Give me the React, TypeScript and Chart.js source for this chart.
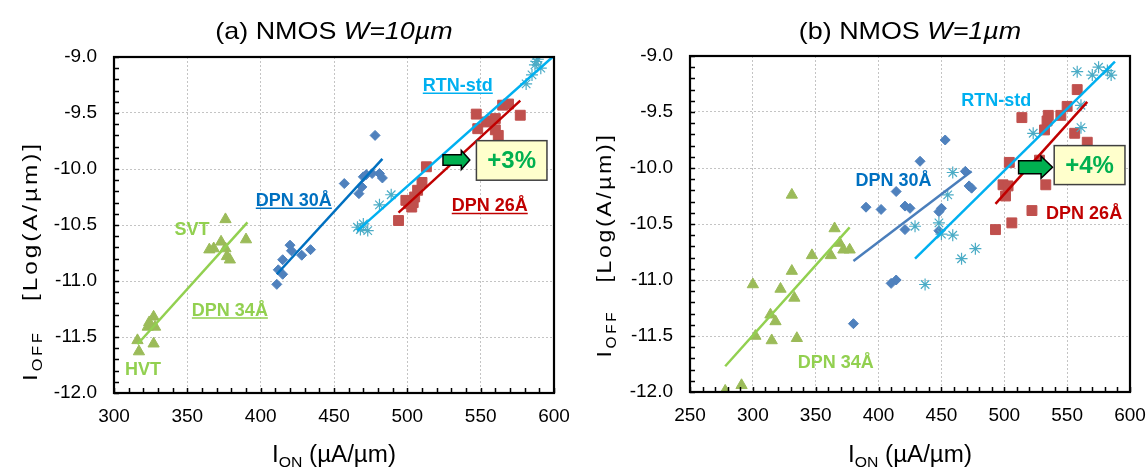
import React, { useEffect, useRef } from 'react';
import { Chart, registerables } from 'chart.js';

Chart.register(...registerables);

const FONT = '"Liberation Sans", Arial, Helvetica, sans-serif';

// ---------------- Panel (a): NMOS W=10um ----------------
const a_dpn34_ion = [376, 390, 365, 368, 373, 376, 377, 379, 324, 327, 328, 323, 316, 317, 327];
const a_dpn34_ioff = [-10.45, -10.63, -10.72, -10.71, -10.65, -10.71, -10.78, -10.81, -11.37, -11.32, -11.41, -11.41, -11.53, -11.63, -11.56];
const a_dpn30_ion = [411, 415, 412, 415, 420, 421, 428, 434, 478, 457, 470, 472, 476, 481, 483, 469, 467];
const a_dpn30_ioff = [-11.03, -10.94, -10.9, -10.81, -10.68, -10.73, -10.77, -10.72, -9.7, -10.13, -10.07, -10.05, -10.04, -10.04, -10.08, -10.16, -10.22];
const a_rtn_ion = [466, 470, 473, 468, 481, 489, 581, 585, 587, 588, 591, 589];
const a_rtn_ioff = [-10.52, -10.49, -10.55, -10.54, -10.32, -10.23, -9.24, -9.16, -9.07, -9.04, -9.1, -9.02];
const a_dpn26_ion = [494, 499, 503, 505, 507, 510, 513, 501, 504, 547, 548, 554, 557, 560, 565, 569, 577, 560, 562];
const a_dpn26_ioff = [-10.46, -10.28, -10.34, -10.25, -10.19, -10.12, -9.98, -10.31, -10.3, -9.51, -9.64, -9.58, -9.57, -9.55, -9.43, -9.42, -9.52, -9.65, -9.7];
// fitted trend lines (end points)
const a_fit34_ion = [316, 391];
const a_fit34_ioff = [-11.565, -10.476];
const a_fit30_ion = [411, 483];
const a_fit30_ioff = [-10.94, -9.91];
const a_fitRtn_ion = [466, 599];
const a_fitRtn_ioff = [-10.55, -9.0];
const a_fit26_ion = [494, 577];
const a_fit26_ioff = [-10.39, -9.39];
const a_xTicks = [300, 350, 400, 450, 500, 550, 600];

// ---------------- Panel (b): NMOS W=1um ----------------
const b_dpn34_ion = [331, 365, 369, 372, 377, 347, 362, 331, 300, 322, 333, 314, 318, 302, 315, 335, 291, 278];
const b_dpn34_ioff = [-10.24, -10.54, -10.67, -10.73, -10.73, -10.78, -10.78, -10.92, -11.04, -11.08, -11.16, -11.31, -11.37, -11.5, -11.54, -11.52, -11.94, -11.99];
const b_dpn30_ion = [390, 402, 414, 421, 425, 421, 433, 453, 448, 450, 448, 469, 472, 474, 380, 410, 414];
const b_dpn30_ioff = [-10.35, -10.37, -10.21, -10.34, -10.36, -10.55, -9.94, -9.75, -10.39, -10.36, -10.56, -10.03, -10.16, -10.18, -11.39, -11.03, -11.0];
const b_rtn_ion = [558, 570, 575, 582, 585, 561, 561, 523, 459, 455, 429, 448, 450, 459, 466, 477, 437];
const b_rtn_ioff = [-9.14, -9.17, -9.1, -9.13, -9.17, -9.44, -9.64, -9.69, -10.04, -10.24, -10.52, -10.49, -10.59, -10.6, -10.81, -10.72, -11.04];
const b_dpn26_ion = [558, 550, 545, 535, 534, 532, 514, 556, 566, 504, 528, 499, 503, 501, 533, 522, 506, 493];
const b_dpn26_ioff = [-9.3, -9.45, -9.53, -9.53, -9.58, -9.66, -9.55, -9.69, -9.77, -9.95, -9.93, -10.15, -10.16, -10.25, -10.15, -10.38, -10.49, -10.55];
const b_fit34_ion = [278, 377];
const b_fit34_ioff = [-11.77, -10.53];
const b_fit30_ion = [380, 474];
const b_fit30_ioff = [-10.83, -10.03];
const b_fitRtn_ion = [429, 588];
const b_fitRtn_ioff = [-10.81, -9.05];
const b_fit26_ion = [493, 566];
const b_fit26_ioff = [-10.32, -9.41];
const b_xTicks = [250, 300, 350, 400, 450, 500, 550, 600];

const yTicks = [-12.0, -11.5, -11.0, -10.5, -10.0, -9.5, -9.0];

// ---------------- styles ----------------
const C_TRI = '#9bbb59';
const C_TRI_LINE = '#92d050';
const C_DIA = '#4f81bd';
const C_SQ = '#c0504d';
const C_SQ_LINE = '#c00000';
const C_AST = '#4bacc6';
const C_AST_LINE = '#00b0f0';
const C_LBL_BLUE = '#0070c0';
const C_GREEN_TXT = '#92d050';

type Label = { text: string; x: number; y: number; color: string; underline?: boolean };
type PanelCfg = {
  title: string;
  titleItalic: string;
  xTicks: number[];
  xMin: number;
  xMax: number;
  padRight: number;
  yAxisWidth: number;
  xAxisHeight: number;
  padTop: number;
  datasets: any[];
  labels: Label[];
  arrow: { x0: number; x1: number; y: number; headLen: number; bodyH: number; headH: number };
  box: { x0: number; x1: number; y0: number; y1: number; text: string };
  yTitleCenter: number;
  yTitleX: number;
  yTitleLen: number;
};

const pts = (xs: number[], ys: number[]) => xs.map((x, i) => ({ x, y: ys[i] }));

const lineDs = (xs: number[], ys: number[], color: string) => ({
  data: pts(xs, ys),
  showLine: true,
  borderColor: color,
  borderWidth: 2.5,
  pointRadius: 0,
  fill: false,
});

const markDs = (xs: number[], ys: number[], style: string, color: string, radius: number) => ({
  data: pts(xs, ys),
  showLine: false,
  pointStyle: style,
  pointRadius: radius,
  backgroundColor: color,
  borderColor: color,
  borderWidth: style === 'star' ? 1.2 : 1,
});

type Part = { t: string; font: string; dy?: number };

function drawRich(
  ctx: CanvasRenderingContext2D,
  parts: Part[],
  cx: number,
  baseline: number,
  color: string,
  opts: { rotate?: boolean; targetWidth?: number; sx?: number; spacing?: number }
) {
  ctx.save();
  const anyCtx = ctx as any;
  if (opts.spacing) anyCtx.letterSpacing = `${opts.spacing}px`;
  let w = 0;
  for (const p of parts) {
    ctx.font = p.font;
    w += ctx.measureText(p.t).width;
  }
  const sx = opts.targetWidth ? opts.targetWidth / w : opts.sx || 1;
  ctx.translate(cx, baseline);
  if (opts.rotate) ctx.rotate(-Math.PI / 2);
  ctx.scale(sx, 1);
  ctx.fillStyle = color;
  ctx.textBaseline = 'alphabetic';
  ctx.textAlign = 'left';
  let x = -w / 2;
  for (const p of parts) {
    ctx.font = p.font;
    ctx.fillText(p.t, x, p.dy || 0);
    x += ctx.measureText(p.t).width;
  }
  ctx.restore();
}

const decorPlugin = (p: PanelCfg) => ({
  id: 'decor',
  afterDatasetsDraw(chart: any) {
    const ctx: CanvasRenderingContext2D = chart.ctx;
    const xs = chart.scales.x;
    const ys = chart.scales.y;
    // labels
    for (const l of p.labels) {
      const px = xs.getPixelForValue(l.x);
      const py = ys.getPixelForValue(l.y);
      ctx.save();
      ctx.font = `bold 18px ${FONT}`;
      ctx.fillStyle = l.color;
      ctx.textAlign = 'center';
      ctx.textBaseline = 'alphabetic';
      const base = py + 6.5;
      ctx.fillText(l.text, px, base);
      if (l.underline) {
        const w = ctx.measureText(l.text).width;
        ctx.strokeStyle = l.color;
        ctx.lineWidth = 1.5;
        ctx.beginPath();
        ctx.moveTo(px - w / 2, base + 2.5);
        ctx.lineTo(px + w / 2, base + 2.5);
        ctx.stroke();
      }
      ctx.restore();
    }
    // arrow
    const a = p.arrow;
    const ax0 = xs.getPixelForValue(a.x0);
    const ax1 = xs.getPixelForValue(a.x1);
    const ay = ys.getPixelForValue(a.y);
    const hx = ax1 - a.headLen;
    ctx.save();
    ctx.beginPath();
    ctx.moveTo(ax0, ay - a.bodyH / 2);
    ctx.lineTo(hx, ay - a.bodyH / 2);
    ctx.lineTo(hx, ay - a.headH / 2);
    ctx.lineTo(ax1, ay);
    ctx.lineTo(hx, ay + a.headH / 2);
    ctx.lineTo(hx, ay + a.bodyH / 2);
    ctx.lineTo(ax0, ay + a.bodyH / 2);
    ctx.closePath();
    ctx.fillStyle = '#00b050';
    ctx.fill();
    ctx.strokeStyle = '#000';
    ctx.lineWidth = 1.5;
    ctx.lineJoin = 'miter';
    ctx.stroke();
    ctx.restore();
    // box
    const b = p.box;
    const bx0 = xs.getPixelForValue(b.x0);
    const bx1 = xs.getPixelForValue(b.x1);
    const by0 = ys.getPixelForValue(b.y0);
    const by1 = ys.getPixelForValue(b.y1);
    ctx.save();
    ctx.fillStyle = '#ffffcc';
    ctx.fillRect(bx0, by0, bx1 - bx0, by1 - by0);
    ctx.strokeStyle = '#404040';
    ctx.lineWidth = 1.5;
    ctx.strokeRect(bx0, by0, bx1 - bx0, by1 - by0);
    ctx.font = `bold 24px ${FONT}`;
    ctx.fillStyle = '#00b050';
    ctx.textAlign = 'center';
    ctx.textBaseline = 'middle';
    ctx.fillText(b.text, (bx0 + bx1) / 2, (by0 + by1) / 2 + 1);
    ctx.restore();
  },
  afterDraw(chart: any) {
    const ctx: CanvasRenderingContext2D = chart.ctx;
    const area = chart.chartArea;
    const xs = chart.scales.x;
    const ys = chart.scales.y;
    ctx.save();
    // minor ticks (inward)
    ctx.strokeStyle = '#000';
    ctx.lineWidth = 1.5;
    ctx.beginPath();
    for (let i = 0; i <= 30; i++) {
      const v = -12 + i * 0.1;
      const py = Math.round(ys.getPixelForValue(v)) + 0.5;
      ctx.moveTo(area.left, py);
      ctx.lineTo(area.left + 5, py);
    }
    for (let v = p.xMin; v <= p.xMax + 0.01; v += 10) {
      const px = Math.round(xs.getPixelForValue(v)) + 0.5;
      ctx.moveTo(px, area.bottom);
      ctx.lineTo(px, area.bottom - 5);
    }
    ctx.stroke();
    // frame
    ctx.lineWidth = 2.2;
    ctx.strokeRect(area.left, area.top, area.right - area.left, area.bottom - area.top);
    ctx.restore();

    const cx = (area.left + area.right) / 2;
    // title
    drawRich(
      ctx,
      [
        { t: p.title, font: `24px ${FONT}` },
        { t: p.titleItalic, font: `italic 24px ${FONT}` },
      ],
      cx,
      39,
      '#000',
      { sx: 1.12 }
    );
    // x axis title
    drawRich(
      ctx,
      [
        { t: 'I', font: `23px ${FONT}` },
        { t: 'ON', font: `15px ${FONT}`, dy: 5 },
        { t: ' (\u00b5A/\u00b5m)', font: `23px ${FONT}` },
      ],
      cx,
      462,
      '#000',
      { sx: 1.05 }
    );
    // y axis title
    drawRich(
      ctx,
      [
        { t: 'I', font: `21px ${FONT}` },
        { t: 'OFF', font: `14px ${FONT}`, dy: 5 },
        { t: '   [Log(A/\u00b5m)]', font: `21px ${FONT}` },
      ],
      p.yTitleX,
      p.yTitleCenter,
      '#000',
      { rotate: true, targetWidth: p.yTitleLen, spacing: 2.5 }
    );
  },
});

function buildConfig(p: PanelCfg): any {
  return {
    type: 'scatter',
    data: { datasets: p.datasets },
    options: {
      animation: false,
      responsive: false,
      maintainAspectRatio: false,
      events: [],
      layout: { padding: { left: 0, right: p.padRight, top: p.padTop, bottom: 0 } },
      plugins: { legend: { display: false }, tooltip: { enabled: false }, title: { display: false } },
      scales: {
        x: {
          type: 'linear',
          min: p.xMin,
          max: p.xMax,
          afterBuildTicks: (s: any) => {
            s.ticks = p.xTicks.map((v) => ({ value: v }));
          },
          afterFit: (s: any) => {
            s.height = p.xAxisHeight;
            s.paddingLeft = 0;
            s.paddingRight = 0;
          },
          ticks: {
            autoSkip: false,
            maxRotation: 0,
            color: '#000',
            padding: 12,
            font: { family: FONT, size: 19 },
            callback: (v: number) => String(v),
          },
          grid: { color: '#c4c4c4', lineWidth: 1, drawTicks: false },
          border: { display: false, dash: [2, 2] },
        },
        y: {
          type: 'linear',
          min: -12,
          max: -9,
          afterBuildTicks: (s: any) => {
            s.ticks = yTicks.map((v) => ({ value: v }));
          },
          afterFit: (s: any) => {
            s.width = p.yAxisWidth;
            s.paddingTop = 0;
            s.paddingBottom = 0;
          },
          ticks: {
            autoSkip: false,
            color: '#000',
            padding: 17,
            font: { family: FONT, size: 19 },
            callback: (v: number) => v.toFixed(1),
          },
          grid: { color: '#c4c4c4', lineWidth: 1, drawTicks: false },
          border: { display: false, dash: [2, 2] },
        },
      },
    },
    plugins: [decorPlugin(p)],
  };
}

const panelA: PanelCfg = {
  title: '(a) NMOS ',
  titleItalic: 'W=10\u00b5m',
  xTicks: a_xTicks,
  xMin: 300,
  xMax: 600,
  padRight: 20,
  yAxisWidth: 114,
  xAxisHeight: 75,
  padTop: 57,
  datasets: [
    lineDs(a_fitRtn_ion, a_fitRtn_ioff, C_AST_LINE),
    lineDs(a_fit26_ion, a_fit26_ioff, C_SQ_LINE),
    lineDs(a_fit30_ion, a_fit30_ioff, '#0070c0'),
    lineDs(a_fit34_ion, a_fit34_ioff, C_TRI_LINE),
    markDs(a_rtn_ion, a_rtn_ioff, 'star', C_AST, 6),
    markDs(a_dpn26_ion, a_dpn26_ioff, 'rect', C_SQ, 7),
    markDs(a_dpn30_ion, a_dpn30_ioff, 'rectRot', C_DIA, 5),
    markDs(a_dpn34_ion, a_dpn34_ioff, 'triangle', C_TRI, 6.5),
  ],
  labels: [
    { text: 'RTN-std', x: 534.4, y: -9.244, color: C_AST_LINE, underline: true },
    { text: 'DPN 26\u00c5', x: 556.2, y: -10.317, color: C_SQ_LINE, underline: true },
    { text: 'DPN 30\u00c5', x: 422.6, y: -10.27, color: C_LBL_BLUE, underline: true },
    { text: 'SVT', x: 353.1, y: -10.53, color: C_GREEN_TXT },
    { text: 'DPN 34\u00c5', x: 379, y: -11.25, color: C_GREEN_TXT, underline: true },
    { text: 'HVT', x: 319.8, y: -11.78, color: C_GREEN_TXT },
  ],
  arrow: { x0: 524.3, x1: 542.6, y: -9.92, headLen: 8.5, bodyH: 10.5, headH: 19 },
  box: { x0: 547.1, x1: 595.2, y0: -9.747, y1: -10.1, text: '+3%' },
  yTitleCenter: 261,
  yTitleX: 37,
  yTitleLen: 240,
};

const panelB: PanelCfg = {
  title: '(b) NMOS ',
  titleItalic: 'W=1\u00b5m',
  xTicks: b_xTicks,
  xMin: 250,
  xMax: 600,
  padRight: 18,
  yAxisWidth: 116,
  xAxisHeight: 76,
  padTop: 56,
  datasets: [
    lineDs(b_fitRtn_ion, b_fitRtn_ioff, C_AST_LINE),
    lineDs(b_fit26_ion, b_fit26_ioff, C_SQ_LINE),
    lineDs(b_fit30_ion, b_fit30_ioff, '#4a7ebb'),
    lineDs(b_fit34_ion, b_fit34_ioff, C_TRI_LINE),
    markDs(b_rtn_ion, b_rtn_ioff, 'star', C_AST, 6),
    markDs(b_dpn26_ion, b_dpn26_ioff, 'rect', C_SQ, 7),
    markDs(b_dpn30_ion, b_dpn30_ioff, 'rectRot', C_DIA, 5),
    markDs(b_dpn34_ion, b_dpn34_ioff, 'triangle', C_TRI, 6.5),
  ],
  labels: [
    { text: 'RTN-std', x: 493.7, y: -9.39, color: C_AST_LINE },
    { text: 'DPN 30\u00c5', x: 411.9, y: -10.1, color: C_LBL_BLUE },
    { text: 'DPN 26\u00c5', x: 563.5, y: -10.4, color: C_SQ_LINE },
    { text: 'DPN 34\u00c5', x: 365.9, y: -11.73, color: C_GREEN_TXT },
  ],
  arrow: { x0: 511.4, x1: 538.4, y: -9.994, headLen: 11.5, bodyH: 13, headH: 22 },
  box: { x0: 539.7, x1: 596.0, y0: -9.8, y1: -10.148, text: '+4%' },
  yTitleCenter: 245,
  yTitleX: 37,
  yTitleLen: 225,
};

function Panel({ cfg, left }: { cfg: PanelCfg; left: number }) {
  const ref = useRef<HTMLCanvasElement>(null);
  useEffect(() => {
    const chart = new Chart(ref.current as HTMLCanvasElement, buildConfig(cfg));
    return () => chart.destroy();
  }, [cfg]);
  return (
    <canvas
      ref={ref}
      width={574}
      height={468}
      style={{ position: 'absolute', left, top: 0, width: 574, height: 468 }}
    />
  );
}

export default function App() {
  return (
    <div style={{ position: 'fixed', left: 0, top: 0, width: 1148, height: 468, background: '#fff' }}>
      <Panel cfg={panelA} left={0} />
      <Panel cfg={panelB} left={574} />
    </div>
  );
}
